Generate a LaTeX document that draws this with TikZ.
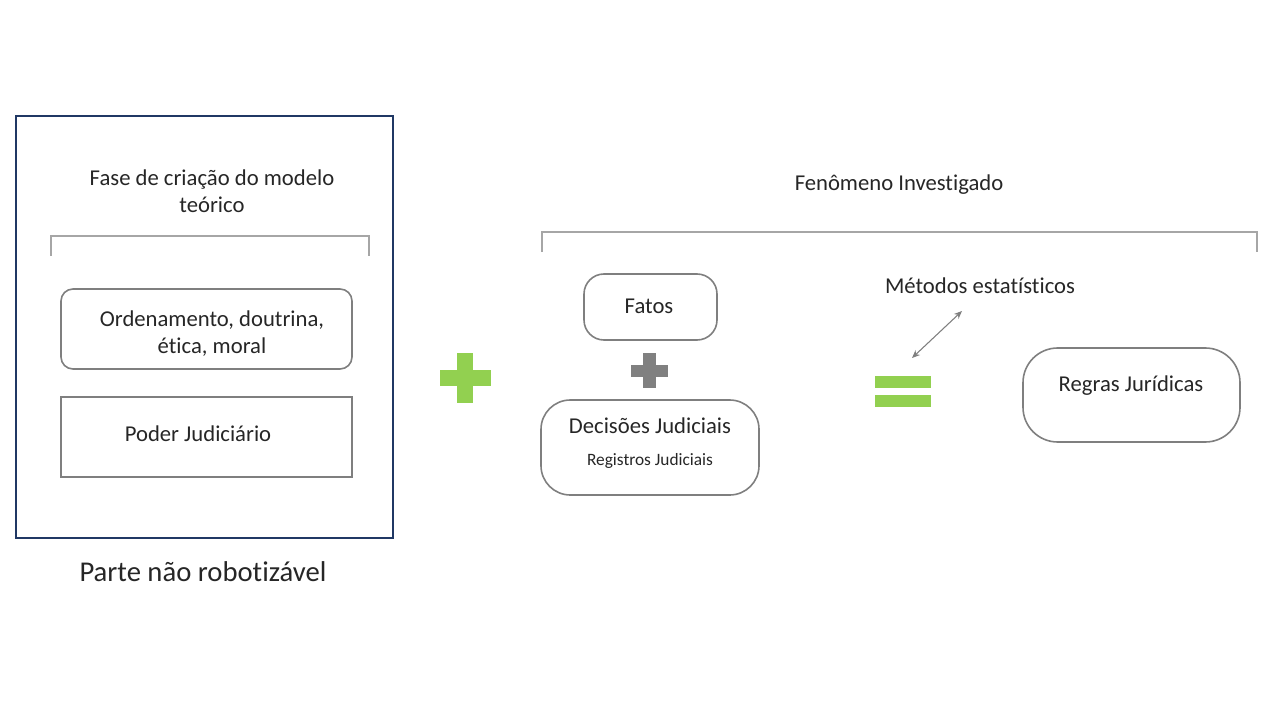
\documentclass[tikz,border=0pt]{standalone}
\usepackage{fontspec}
\setmainfont{Carlito}[Ligatures=NoCommon]
\usetikzlibrary{arrows.meta, positioning}
\definecolor{txtgray}{HTML}{262626}
\definecolor{boxgray}{HTML}{7F7F7F}
\definecolor{brgray}{HTML}{A6A6A6}
\definecolor{navy}{HTML}{203864}
\definecolor{plusgreen}{HTML}{92D050}
\definecolor{plusgray}{HTML}{808080}
\begin{document}
\begin{tikzpicture}[
    x=0.75pt, y=-0.75pt,
    every node/.style={font=\fontsize{17}{20.25}\selectfont, text=txtgray, align=center, inner sep=0pt},
    box/.style={draw=boxgray, line width=1.2pt, minimum width=#1*0.75pt},
    box/.default=291,
    bracket/.style={draw=brgray, line width=0.9pt},
    arrow/.style={<->, draw=boxgray, line width=0.8pt, >={Stealth[length=6pt, width=5pt]}}
]
\useasboundingbox (0,0) rectangle (1280,720);
% left part
\node[draw=navy, line width=1.5pt, minimum width=377*0.75pt, minimum height=422*0.75pt] (frame) at (204.5,327) {};
\node (fase) at (212,191) {Fase de criação do modelo\\teórico};
\coordinate (lb1) at (51,256);
\coordinate (lb2) at (369,256);
\draw[bracket] (lb1) |- (212,236) -| (lb2);
\node[box, rounded corners=9pt, minimum height=80*0.75pt] (ordem) at (206.5,329) {};
\node at (212,334) {Ordenamento, doutrina,\\ética, moral};
\node[box, minimum height=80*0.75pt] (poder) at (206.5,437) {};
\node at (198,434) {Poder Judiciário};
\node[font=\fontsize{21.5}{26}\selectfont] (parte) at (203,572) {Parte não robotizável};
% green plus
\fill[plusgreen] (440,370) rectangle (491,386);
\fill[plusgreen] (457,353) rectangle (473,403);
% right part
\node (fenom) at (899,185) {Fenômeno Investigado};
\coordinate (rb1) at (542,252);
\coordinate (rb2) at (1257,252);
\draw[bracket] (rb1) |- (899,232) -| (rb2);
\node[box=133, rounded corners=15pt, minimum height=66*0.75pt] (fatos) at (650.5,307) {};
\node at (649,306) {Fatos};
\fill[plusgray] (631,365) rectangle (668,377);
\fill[plusgray] (643,353) rectangle (656,388);
\node[box=218, rounded corners=22pt, minimum height=95*0.75pt] (decis) at (650,447.5) {};
\node at (650,426) {Decisões Judiciais};
\node[font=\fontsize{13}{16}\selectfont] at (650,461) {Registros Judiciais};
\node (metodos) at (980,286) {Métodos estatísticos};
\coordinate (arrA) at (912,358);
\coordinate (arrB) at (962,311);
\draw[arrow] (arrA) -- (arrB);
% equals sign
\fill[plusgreen] (875,376) rectangle (931,388);
\fill[plusgreen] (875,395) rectangle (931,407);
\node[box=217, rounded corners=26pt, minimum height=94*0.75pt] (regras) at (1131.5,395) {};
\node at (1131,386) {Regras Jurídicas};
\end{tikzpicture}
\end{document}
